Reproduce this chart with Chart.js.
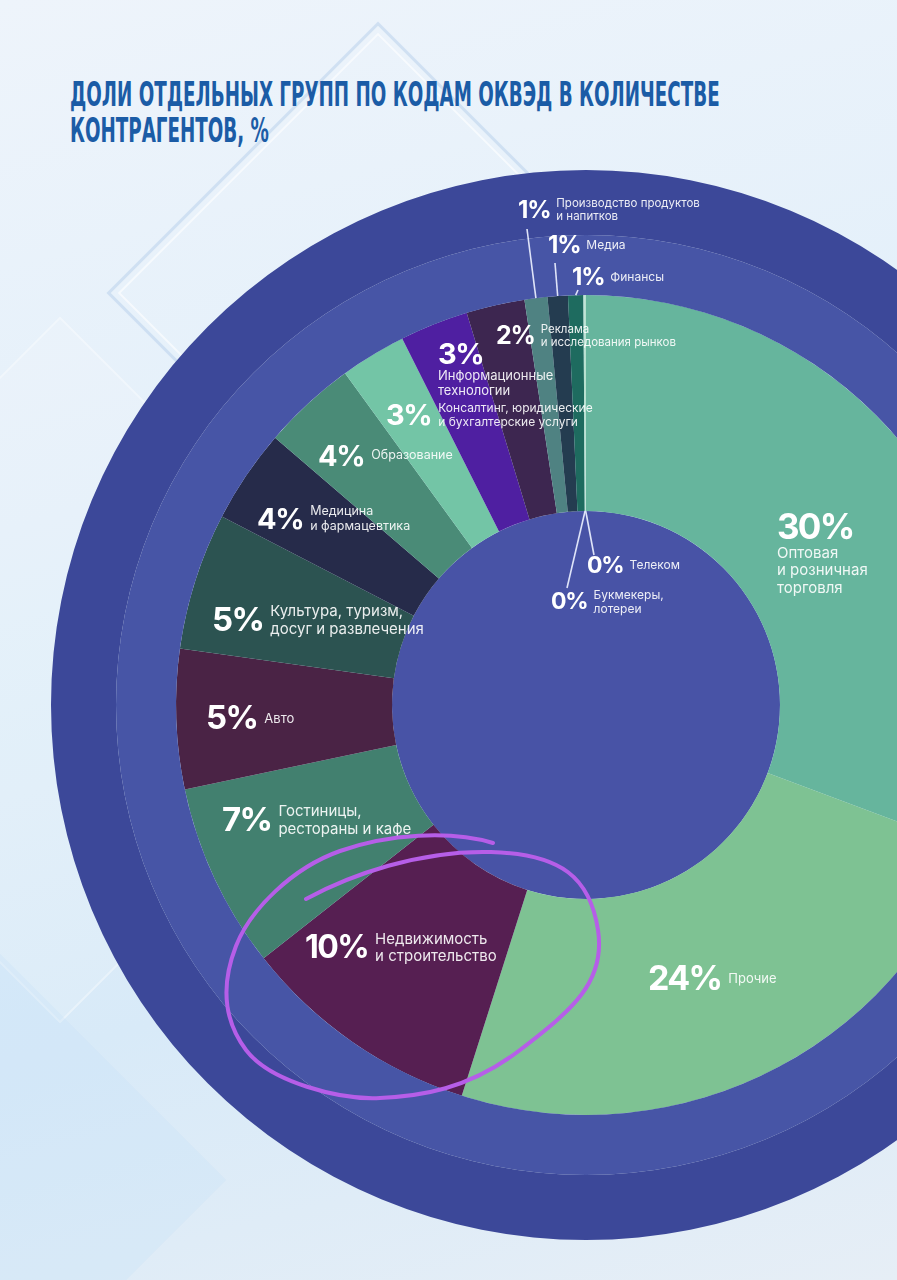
<!DOCTYPE html>
<html lang="ru">
<head>
<meta charset="utf-8">
<title>Доли отдельных групп по кодам ОКВЭД</title>
<script src="https://cdn.jsdelivr.net/npm/chart.js@4.4.1/dist/chart.umd.min.js"></script>
<style>
  html, body { margin: 0; padding: 0; width: 897px; height: 1280px; overflow: hidden; }
  body {
    position: relative;
    background: linear-gradient(165deg, #eef4fb 0%, #e4f0fa 35%, #d8eaf8 70%, #e6eef6 100%);
    font-family: Inter, "Noto Sans", sans-serif;
  }
  .deco { position: absolute; transform: rotate(45deg); box-sizing: border-box; }
  #title {
    position: absolute; left: 70px; top: 77px;
    color: #1b5ca6; font-family: "Liberation Sans Narrow", "DejaVu Sans Condensed", sans-serif;
    font-weight: 700; font-size: 33px; line-height: 36px; white-space: nowrap;
    transform-origin: 0 0;
  }
  #title span { display: block; }
  #chart { position: absolute; left: 51px; top: 170px; }
  #labels { position: absolute; left: 0; top: 0; width: 897px; height: 1280px; pointer-events: none; }
  .lbl { position: absolute; color: #fff; display: flex; white-space: nowrap; }
  .lbl.side { flex-direction: row; align-items: center; }
  .lbl.below { flex-direction: column; align-items: flex-start; }
  .num { font-weight: 700; line-height: 1; letter-spacing: -0.05em; }
  .txt { font-weight: 400; color: rgba(255,255,255,0.9); line-height: 1.15; }
  #mark { position: absolute; left: 0; top: 0; }
</style>
</head>
<body>
<div class="deco" style="left:186px; top:101px; width:384px; height:384px; border:3px solid rgba(190,212,236,0.6);"></div>
<div class="deco" style="left:194px; top:109px; width:368px; height:368px; border:2px solid rgba(255,255,255,0.6);"></div>
<div class="deco" style="left:-190px; top:420px; width:500px; height:500px; background:rgba(255,255,255,0.12); border:2px solid rgba(255,255,255,0.35);"></div>
<div class="deco" style="left:-160px; top:1020px; width:320px; height:320px; background:rgba(200,226,248,0.3);"></div>

<div id="title"><span>ДОЛИ ОТДЕЛЬНЫХ ГРУПП ПО КОДАМ ОКВЭД В КОЛИЧЕСТВЕ</span><span>КОНТРАГЕНТОВ, %</span></div>

<canvas id="chart" width="1070" height="1070"></canvas>
<div id="labels"></div>

<svg id="mark" width="897" height="1280">
  <path d="M306,899 C350,875 420,850 491,852 S590,878 598,930 S572,1010 520,1050 S420,1096 380,1098 S270,1082 246,1050 S222,982 236,946 S292,868 340,851 S450,830 493,843"
        fill="none" stroke="#b65ee8" stroke-width="4" stroke-linecap="round"/>
</svg>

<script>
// categories, clockwise from 12 o'clock
const categories = [
  'Оптовая\nи розничная\nторговля',
  'Прочие',
  'Недвижимость\nи строительство',
  'Гостиницы,\nрестораны и кафе',
  'Авто',
  'Культура, туризм,\nдосуг и развлечения',
  'Медицина\nи фармацевтика',
  'Образование',
  'Консалтинг, юридические\nи бухгалтерские услуги',
  'Информационные\nтехнологии',
  'Реклама\nи исследования рынков',
  'Производство продуктов\nи напитков',
  'Медиа',
  'Финансы',
  'Букмекеры,\nлотереи',
  'Телеком'
];

// printed percentages
const printed = [30, 24, 10, 7, 5, 5, 4, 4, 3, 3, 2, 1, 1, 1, 0, 0];

// arc sizes
const shares = [30.7, 24.2, 9.5, 7.3, 5.5, 5.4, 3.7, 3.7, 2.6, 2.7, 2.3, 0.9, 0.8, 0.6, 0.05, 0.05];

const segmentColors = [
  '#66b59d', '#7ec293', '#561f52', '#42806f', '#4a2345', '#2c5351', '#262b4a', '#4a8b77',
  '#73c5a6', '#4f1fa1', '#3d2650', '#4f8282', '#243c50', '#1e6b5f', '#b7e0cf', '#b7e0cf'
];
const outerRingColor = '#3c4899';
const middleRingColor = '#4755a6';
const centerColor = '#4853a6';

// label layout (page px): x, cap-top y, number size, text size, mode
const labelLayout = [
  { x: 777, y: 514, fs: 35, ts: 15, mode: 'below' },
  { x: 648, y: 966, fs: 34, ts: 13, mode: 'side' },
  { x: 305, y: 934, fs: 32, ts: 15, mode: 'side' },
  { x: 222, y: 807, fs: 33, ts: 15, mode: 'side' },
  { x: 206, y: 706, fs: 33, ts: 13, mode: 'side' },
  { x: 212, y: 607, fs: 33, ts: 15, mode: 'side' },
  { x: 257, y: 508, fs: 29, ts: 12.5, mode: 'side' },
  { x: 318, y: 445, fs: 29, ts: 12.5, mode: 'side' },
  { x: 386, y: 404, fs: 29, ts: 12, mode: 'side' },
  { x: 438, y: 343, fs: 29, ts: 13, mode: 'below' },
  { x: 496, y: 326, fs: 25, ts: 11.5, mode: 'side' },
  { x: 518, y: 200, fs: 24, ts: 11.5, mode: 'side' },
  { x: 548, y: 236, fs: 24, ts: 12, mode: 'side' },
  { x: 572, y: 268, fs: 24, ts: 12, mode: 'side' },
  { x: 551, y: 591, fs: 23, ts: 12, mode: 'side' },
  { x: 587, y: 557, fs: 23, ts: 12, mode: 'side' }
];

// leader line ends next to labels (page px), by segment index
const leaderTips = { 11: [527, 229], 12: [555, 263], 13: [578, 290], 14: [567, 588], 15: [594, 555] };

const canvasLeft = 51, canvasTop = 170;

// title squeezed to its width in the picture
const title = document.getElementById('title');
const firstLine = title.querySelector('span');
title.style.transform = 'scaleX(' + (650 / firstLine.offsetWidth) + ')';

// labels
const labelBox = document.getElementById('labels');
categories.forEach((name, i) => {
  const L = labelLayout[i];
  const d = document.createElement('div');
  d.className = 'lbl ' + L.mode;
  d.style.left = L.x + 'px';
  d.style.top = (L.y - 0.137 * L.fs) + 'px';
  const n = document.createElement('span');
  n.className = 'num';
  n.style.fontSize = L.fs + 'px';
  n.textContent = printed[i] + '%';
  const t = document.createElement('span');
  t.className = 'txt';
  t.style.fontSize = L.ts + 'px';
  if (L.mode === 'side') t.style.marginLeft = (L.fs > 26 ? 7 : 6) + 'px';
  name.split('\n').forEach((line, k) => {
    if (k) t.appendChild(document.createElement('br'));
    t.appendChild(document.createTextNode(line));
  });
  d.appendChild(n);
  d.appendChild(t);
  labelBox.appendChild(d);
});

const leaderPlugin = {
  id: 'leaders',
  afterDatasetsDraw(chart) {
    const meta = chart.getDatasetMeta(2);
    const ctx = chart.ctx;
    ctx.save();
    ctx.strokeStyle = 'rgba(236,240,255,0.92)';
    ctx.lineWidth = 1.6;
    Object.keys(leaderTips).forEach(key => {
      const i = Number(key);
      const p = meta.data[i].getProps(['x', 'y', 'startAngle', 'endAngle', 'innerRadius', 'outerRadius'], true);
      const a = (p.startAngle + p.endAngle) / 2;
      const r = printed[i] === 0 ? p.innerRadius : p.outerRadius;
      ctx.beginPath();
      ctx.moveTo(p.x + r * Math.cos(a), p.y + r * Math.sin(a));
      ctx.lineTo(leaderTips[key][0] - canvasLeft, leaderTips[key][1] - canvasTop);
      ctx.stroke();
    });
    ctx.restore();
  }
};

new Chart(document.getElementById('chart'), {
  type: 'doughnut',
  data: {
    labels: categories,
    datasets: [
      { data: [1], backgroundColor: outerRingColor, weight: 65 },
      { data: [1], backgroundColor: middleRingColor, weight: 60 },
      { data: shares, backgroundColor: segmentColors, weight: 216 },
      { data: [1], backgroundColor: centerColor, weight: 194 }
    ]
  },
  options: {
    responsive: false,
    animation: false,
    cutout: 0,
    rotation: 0,
    layout: { padding: 0 },
    events: [],
    elements: { arc: { borderWidth: 0, hoverBorderWidth: 0, hoverOffset: 0, offset: 0 } },
    plugins: { legend: { display: false }, tooltip: { enabled: false } }
  },
  plugins: [leaderPlugin]
});
</script>
</body>
</html>
